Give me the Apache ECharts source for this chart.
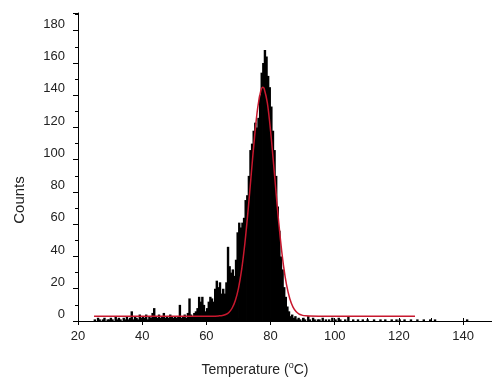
<!DOCTYPE html>
<html>
<head>
<meta charset="utf-8">
<script src="https://cdn.jsdelivr.net/npm/echarts@6/dist/echarts.min.js"></script>
<style>
html,body{margin:0;padding:0;background:#fff;}
#chart{width:492px;height:387px;}
</style>
</head>
<body>
<div id="chart"></div>
<script>
// Histogram: bins of 0.5 °C starting at 25 °C
const binStart = 25;
const binWidth = 0.5;
const counts = [
  1,0,2,1,0,1,2,0,1,1,        // 25-30
  2,1,0,3,1,2,1,0,2,1,        // 30-35
  3,1,2,6,1,3,2,1,4,2,        // 35-40
  3,2,4,1,3,2,5,8,3,2,        // 40-45
  4,2,3,5,2,3,2,4,3,2,        // 45-50
  3,2,3,10,2,3,4,2,5,14,      // 50-55
  4,3,5,6,8,15,12,15,10,6,    // 55-60
  8,12,15,14,12,20,25,21,24,17, // 60-65
  20,17,24,46,34,30,32,28,38,55, // 65-70
  61,58,61,64,75,78,90,106,110,118, // 70-75
  123,120,126,140,154,160,168,164,152,145, // 75-80
  133,118,106,90,71,56,40,32,21,15, // 80-85
  9,6,3,4,2,3,1,2,1,0,        // 85-90
  2,1,0,3,1,0,2,1,0,1,        // 90-95
  1,0,2,0,1,0,1,0,2,0,        // 95-100
  1,0,2,1,0,0,1,0,3,0,        // 100-105
  0,1,0,0,1,0,0,1,0,0,        // 105-110
  1,0,0,0,1,0,0,0,1,0,        // 110-115
  0,1,0,0,0,1,0,0,1,0,        // 115-120
  1,0,0,1,0,0,0,1,0,0,        // 120-125
  0,1,0,0,0,1,0,0,0,1,        // 125-130
  0,0,1,0,0,0,0,0,0,0,        // 130-135
  0,0,0,0,0,0,0,0,0,0,        // 135-140
  0,0,1,0,0,0,0,0,0,0         // 140-145
];

// Fitted curve
const fitTemp   = [25, 40, 55, 60, 62, 64, 65, 66, 67, 68, 69, 70, 71, 72, 73, 74, 75, 76, 77, 77.6, 78, 79, 80, 81, 82, 83, 84, 85, 86, 87, 88, 89, 90, 91, 92, 95, 110, 125];
const fitCounts = [3, 3, 3, 3, 3, 3.2, 3.4, 4, 5.3, 7.9, 12.5, 20.2, 32, 48.2, 68.6, 91.5, 113.9, 132.3, 143.1, 145, 144.2, 135.2, 118, 96.1, 73, 52, 34.8, 22.2, 13.8, 8.6, 5.7, 4.2, 3.5, 3.2, 3.1, 3, 3, 3];

// Axis ticks
const xTicks = [20, 40, 60, 80, 100, 120, 140];
const yTicks = [0, 20, 40, 60, 80, 100, 120, 140, 160, 180];

const histData = counts.map((c, i) => [binStart + i * binWidth, c]);
const fitData = fitTemp.map((t, i) => [t, fitCounts[i]]);

const chart = echarts.init(document.getElementById('chart'), null, {renderer: 'canvas'});
const font = 'Liberation Sans, Arial, sans-serif';
const xMin = xTicks[0], xMax = 149, yMin = yTicks[0], yMax = 191;

chart.setOption({
  animation: false,
  backgroundColor: '#fff',
  grid: {left: 78, right: 0, top: 13, bottom: 66, containLabel: false},
  xAxis: [{
    type: 'value', min: xMin, max: xMax, interval: 20, position: 'bottom',
    axisLine: {show: true, onZero: false, lineStyle: {color: '#000', width: 1}},
    axisTick: {show: true, inside: false, length: 4, lineStyle: {color: '#000'}},
    axisLabel: {show: true, showMaxLabel: false, fontFamily: font, fontSize: 13, color: '#222', margin: 9},
    splitLine: {show: false}
  }, {
    type: 'value', min: xMin, max: xMax, interval: 10, position: 'bottom',
    axisLine: {show: false, onZero: false},
    axisTick: {show: true, inside: true, length: 3, lineStyle: {color: '#000'}},
    axisLabel: {show: false},
    splitLine: {show: false}
  }],
  yAxis: {
    type: 'value', min: yMin, max: yMax, interval: 20,
    axisLine: {show: true, onZero: false, lineStyle: {color: '#000', width: 1}},
    axisTick: {show: true, inside: false, length: 5, lineStyle: {color: '#000'}},
    minorTick: {show: true, splitNumber: 2, length: 3, lineStyle: {color: '#000'}},
    axisLabel: {show: true, showMaxLabel: false, fontFamily: font, fontSize: 13, color: '#222', margin: 13, verticalAlign: 'bottom'},
    splitLine: {show: false}
  },
  graphic: [
    {
      type: 'text', x: 255, y: 370,
      style: {
        text: 'Temperature ({sup|o}C)',
        fontFamily: font, fontSize: 14, fill: '#222',
        align: 'center', verticalAlign: 'middle',
        rich: {sup: {fontFamily: font, fontSize: 9, fill: '#222', padding: [0, 0, 8, 0]}}
      }
    },
    {
      type: 'text', x: 20, y: 200, rotation: Math.PI / 2,
      style: {
        text: 'Counts', fontFamily: font, fontSize: 15, fill: '#222',
        align: 'center', verticalAlign: 'middle'
      }
    }
  ],
  series: [{
    type: 'custom',
    xAxisIndex: 0,
    data: histData,
    renderItem: function (params, api) {
      const x = api.value(0), y = api.value(1);
      if (!y) return null;
      const p0 = api.coord([x, 0]);
      const p1 = api.coord([x + binWidth, y]);
      return {
        type: 'rect',
        shape: {x: p0[0] - 0.4, y: p1[1], width: p1[0] - p0[0] + 0.8, height: p0[1] - p1[1]},
        style: {fill: '#000', lineWidth: 0}
      };
    },
    z: 2
  }, {
    type: 'line',
    xAxisIndex: 0,
    data: fitData,
    smooth: 0.3,
    showSymbol: false,
    symbol: 'none',
    lineStyle: {color: '#c8182e', width: 1.5},
    z: 3
  }]
});
</script>
</body>
</html>
